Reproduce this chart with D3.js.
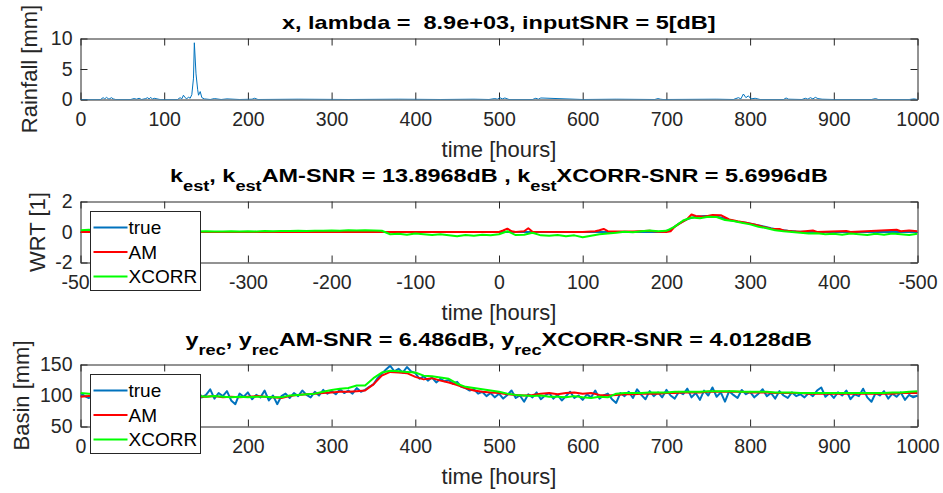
<!DOCTYPE html>
<html>
<head>
<meta charset="utf-8">
<script src="https://cdn.jsdelivr.net/npm/d3@7"></script>
<style>
body{margin:0;background:#fff}
text{font-family:Arial,"Liberation Sans",Helvetica,sans-serif}
</style>
</head>
<body>
<svg id="mainsvg" width="943" height="493"></svg>
<script>
// ---- data ----
const xTicks = [0,100,200,300,400,500,600,700,800,900,1000]
const xTickLabels = ['0','100','200','300','400','500','600','700','800','900','1000']
const wrtTickLabels = ['-500','-400','-300','-200','-100','0','100','200','300','400','-500']
const rainTicks = [0,5,10]
const wrtTicks = [-2,0,2]
const basinTicks = [50,100,150]
const legendNames = ['true','AM','XCORR']

// rainfall (sparse: hour / mm)
const rainHours = [0,24,27,29,31,34,37,39,42,60,64,67,70,73,78,80,82,84,86,88,95,116,119,121,123,125,127,129,131,133,135,136,138,140,141,143,145,148,155,160,168,175,190,205,208,212,260,320,380,430,470,488,495,498,501,504,507,512,540,544,547,550,600,640,686,690,693,696,760,780,786,789,792,795,798,801,806,812,840,843,846,862,866,869,872,875,878,881,886,900,945,950,953,990,996,1000]
const rainValues = [0,0,0.3,0.1,0.35,0.05,0.3,0.1,0,0,0.15,0.05,0.2,0,0.15,0.3,0.1,0.35,0.05,0.2,0,0,0.3,0.1,0.7,0.3,0.1,0.4,0.2,0.8,3.5,9.3,4.2,1.6,0.7,1.3,0.3,0.1,0,0.15,0,0.1,0,0.05,0.2,0,0.05,0,0.05,0,0.05,0,0.15,0.05,0.3,0.1,0.25,0,0,0.2,0.05,0.25,0,0.05,0,0.15,0.05,0,0.05,0,0.3,0.1,0.9,0.3,0.6,0.1,0.2,0,0,0.25,0.05,0,0.2,0.05,0.3,0.1,0.35,0.15,0.05,0,0,0.15,0,0,0.1,0]

// WRT, true and AM as knots, XCORR every 10 h
const wrtTrueHours = [0,695,705,715,725,735,745,755,765,775,785,795,805,815,825,835,845,855,870,1000]
const wrtTrue = [0,0,0.15,0.55,0.85,1.0,1.05,1.05,0.95,0.78,0.68,0.6,0.5,0.38,0.25,0.14,0.08,0.04,0,0]
const wrtAmHours = [0,500,505,510,515,520,530,535,540,600,615,620,625,630,660,680,690,700,705,710,720,725,730,735,745,755,765,775,785,795,805,815,825,835,840,850,860,875,880,915,920,975,980,990,1000]
const wrtAm = [0,0,0.1,0.22,0.05,0,0.05,0.25,0.02,0,0.05,0.12,0.2,0.05,0.03,0.08,0.02,0,0.05,0.35,0.7,0.85,1.15,1.05,1.0,1.12,1.1,0.82,0.7,0.6,0.5,0.35,0.22,0.2,0.1,0.05,0.02,0.1,0,0.07,0,0.15,0.05,0.1,0.05]
const wrtXcorrHours = d3.range(0,1001,10)
const wrtXcorr = [0.12,0.15,0.1,0.08,0.1,0.06,0.08,0.05,0.07,0.05,
  0.06,0.04,0.05,0.04,0.03,0.05,0.03,0.04,0.05,0.03,
  0.05,0.04,0.06,0.05,0.07,0.06,0.08,0.07,0.09,0.08,
  0.1,0.09,0.11,0.1,0.12,0.1,0.08,-0.15,-0.12,-0.18,
  -0.1,-0.14,-0.2,-0.15,-0.22,-0.28,-0.2,-0.25,-0.18,-0.22,
  -0.15,0.05,-0.2,-0.18,-0.05,-0.22,-0.25,-0.2,-0.28,-0.22,
  -0.35,-0.25,-0.15,-0.1,-0.05,0.02,-0.02,0.05,0.1,0.05,
  0.08,0.35,0.75,0.95,0.9,1.0,0.98,0.78,0.72,0.6,
  0.5,0.35,0.25,0.12,0.05,0,-0.05,-0.1,-0.08,-0.15,
  -0.12,-0.18,-0.1,-0.15,-0.2,-0.12,-0.18,-0.1,-0.15,-0.2,
  -0.12]

// basin, true every 5 h, AM / XCORR every 10 h
const basinTrueHours = d3.range(0,1001,5)
const basinTrue = [104,99,96,102,94,100,105,97,101,93,99,104,98,95,102,100,97,103,96,101,
  98,104,95,100,102,96,103,99,108,97,101,110,95,104,99,107,92,86,103,98,
  105,94,101,97,108,92,100,86,99,103,96,104,99,108,101,97,106,100,109,103,
  107,102,110,104,108,103,112,106,109,114,118,128,135,142,148,139,143,137,146,139,
  136,127,131,124,129,121,127,123,125,119,122,114,112,108,110,103,106,99,104,97,
  103,95,101,108,96,100,90,102,97,105,94,100,104,95,101,92,99,106,96,100,
  93,102,97,108,95,100,103,94,88,104,99,106,96,110,101,94,107,99,105,97,
  109,100,95,106,102,111,97,104,93,108,100,113,98,105,90,107,101,96,109,102,
  106,97,103,110,99,104,95,107,100,96,105,99,102,97,104,99,108,113,98,104,
  96,105,100,108,94,102,99,111,97,90,104,100,107,95,103,98,105,93,101,97,
  100]
const basinHours = d3.range(0,1001,10)
const basinAm = [98,99,100,99,100,101,100,99,100,101,
  100,99,100,99,98,98,99,97,98,97,
  98,99,98,97,96,99,101,102,103,104,
  105,106,106,107,108,118,132,138,137,136,
  130,126,128,124,121,117,112,108,106,105,
  104,102,101,100,101,103,104,102,104,105,
  103,104,101,100,101,102,102,103,103,103,
  104,104,105,105,105,106,106,106,106,106,
  105,105,105,104,104,104,104,103,103,103,
  103,103,103,103,103,103,103,103,104,104,
  104]
const basinXcorr = [104,103,102,101,101,100,101,100,100,101,
  100,100,100,99,99,98,99,98,97,98,
  97,98,98,97,97,100,101,102,103,106,
  109,111,112,116,116,128,137,140,139,138,
  137,132,131,129,127,119,114,112,110,108,
  106,103,101,100,99,100,98,98,97,99,
  97,96,98,97,103,104,104,104,105,105,
  105,106,106,106,106,107,107,107,107,106,
  106,106,106,105,105,105,104,104,104,104,
  104,104,104,104,104,104,104,105,105,106,
  107]

// ---- layout ----
const colors = {blue:'#0072BD', red:'#FF0000', green:'#00FF00'}
const axisColor = '#262626'
const left = 80.5, right = 917.5
const legendX = 90.5, legendW = 110, legendH = 79
const svg = d3.select('#mainsvg')
const x = d3.scaleLinear().domain([0,1000]).range([left,right])

function drawPanel(id, top, bottom, yDomain, yTicks, tickLabels, yLabel, yLabelX){
    let y = d3.scaleLinear().domain(yDomain).range([bottom, top])
    let g = svg.append('g').attr('id', id)

    g.append('clipPath').attr('id', `clip_${id}`)
        .append('rect').attr('x', left).attr('y', top).attr('width', right - left).attr('height', bottom - top)

    let xb = d3.axisBottom(x).tickValues(xTicks).tickSizeInner(-7).tickSizeOuter(0).tickPadding(13)
        .tickFormat((d, i) => tickLabels[i])
    let xt = d3.axisTop(x).tickValues(xTicks).tickSizeInner(-7).tickSizeOuter(0).tickFormat('')
    let yl = d3.axisLeft(y).tickValues(yTicks).tickSizeInner(-7).tickSizeOuter(0).tickPadding(8)
        .tickFormat(d => d)
    let yr = d3.axisRight(y).tickValues(yTicks).tickSizeInner(-7).tickSizeOuter(0).tickFormat('')

    g.append('g').attr('class', 'xaxis').attr('transform', `translate(0,${bottom})`).call(xb)
    g.append('g').attr('transform', `translate(0,${top})`).call(xt)
    g.append('g').attr('transform', `translate(${left},0)`).call(yl)
    g.append('g').attr('transform', `translate(${right},0)`).call(yr)
    g.selectAll('.domain, .tick line').attr('stroke', axisColor).attr('stroke-width', 1)
    g.selectAll('.tick text').attr('fill', axisColor).attr('font-size', '19.5px')
        .attr('font-family', 'Arial,"Liberation Sans",sans-serif')

    g.append('text')
        .attr('transform', `translate(${yLabelX},${(top + bottom) / 2}) rotate(-90)`)
        .attr('text-anchor', 'middle').attr('font-size', '22px').attr('fill', axisColor)
        .text(yLabel)
    g.append('text')
        .attr('x', (left + right) / 2).attr('y', bottom + 57)
        .attr('text-anchor', 'middle').attr('font-size', '22px').attr('fill', axisColor)
        .text('time [hours]')

    let plot = g.append('g').attr('clip-path', `url(#clip_${id})`)
    return {g, y, plot}
}

function drawLine(panel, hours, values, color, width){
    let line = d3.line().x((d, i) => x(hours[i])).y(d => panel.y(d))
    panel.plot.append('path').datum(values)
        .attr('d', line).attr('fill', 'none')
        .attr('stroke', color).attr('stroke-width', width)
        .attr('stroke-linejoin', 'round')
}

function drawLegend(panel, top){
    // tick labels lying fully under the legend box are not visible in the figure
    panel.g.selectAll('.xaxis .tick')
        .filter(d => x(d) > legendX + 20 && x(d) < legendX + legendW)
        .select('text').remove()
    let lg = panel.g.append('g').attr('transform', `translate(${legendX},${top + 10})`)
    lg.append('rect').attr('width', legendW).attr('height', legendH)
        .attr('fill', 'white').attr('stroke', axisColor).attr('stroke-width', 1)
    let cols = [colors.blue, colors.red, colors.green]
    legendNames.forEach((n, i) => {
        let cy = 16 + i * 24.5
        lg.append('line').attr('x1', 3).attr('x2', 37).attr('y1', cy).attr('y2', cy)
            .attr('stroke', cols[i]).attr('stroke-width', 2)
        lg.append('text').attr('x', 38).attr('y', cy).attr('dy', '0.35em')
            .attr('font-size', '19px').attr('fill', '#000').text(n)
    })
}

function drawTitle(parts, baseline, targetWidth){
    let t = svg.append('text').attr('font-weight', 'bold').attr('fill', '#000')
    let shifted = false
    parts.forEach(p => {
        let dy = 0
        if(p.sub && !shifted){ dy = 9; shifted = true }
        else if(!p.sub && shifted){ dy = -9; shifted = false }
        t.append('tspan').attr('dy', dy).attr('font-size', p.sub ? '14px' : '18px')
            .style('white-space', 'pre').text(p.s)
    })
    let w = t.node().getBBox().width
    let sx = targetWidth / w
    t.attr('transform', `translate(${(left + right) / 2 - targetWidth / 2},${baseline}) scale(${sx},1)`)
}

// ---- panels ----
let p1 = drawPanel('rain', 38.5, 99.5, [0,10], rainTicks, xTickLabels, 'Rainfall [mm]', 37)
drawLine(p1, rainHours, rainValues, colors.blue, 1)

let p2 = drawPanel('wrt', 201.5, 262.5, [-2,2], wrtTicks, wrtTickLabels, 'WRT [1]', 45)
drawLine(p2, wrtTrueHours, wrtTrue, colors.blue, 2)
drawLine(p2, wrtAmHours, wrtAm, colors.red, 2)
drawLine(p2, wrtXcorrHours, wrtXcorr, colors.green, 2)
drawLegend(p2, 201.5)

let p3 = drawPanel('basin', 364.5, 426.5, [50,150], basinTicks, xTickLabels, 'Basin [mm]', 29)
drawLine(p3, basinTrueHours, basinTrue, colors.blue, 2)
drawLine(p3, basinHours, basinAm, colors.red, 2)
drawLine(p3, basinHours, basinXcorr, colors.green, 2)
drawLegend(p3, 364.5)

drawTitle([{s:'x, lambda =  8.9e+03, inputSNR = 5[dB]'}], 28.5, 434)
drawTitle([{s:'k'},{s:'est',sub:true},{s:', k'},{s:'est',sub:true},{s:'AM-SNR = 13.8968dB , k'},
    {s:'est',sub:true},{s:'XCORR-SNR = 5.6996dB'}], 181.5, 658)
drawTitle([{s:'y'},{s:'rec',sub:true},{s:', y'},{s:'rec',sub:true},{s:'AM-SNR = 6.486dB, y'},
    {s:'rec',sub:true},{s:'XCORR-SNR = 4.0128dB'}], 345.5, 627)
</script>
</body>
</html>
